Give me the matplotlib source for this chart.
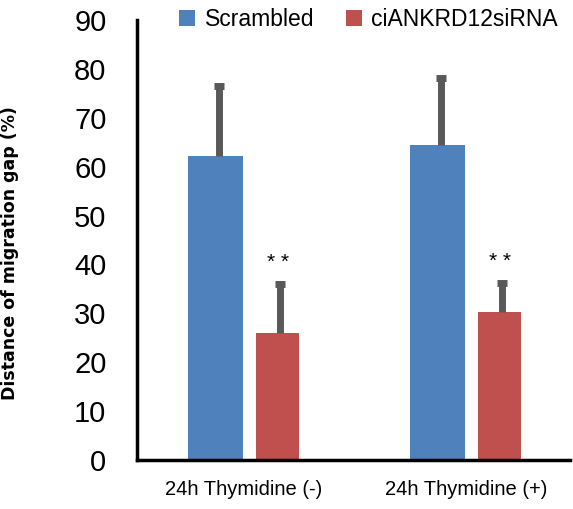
import numpy as np
import matplotlib.pyplot as plt

plt.rcParams['font.family'] = ['Liberation Sans', 'DejaVu Sans']

# дані з графіка
groups = ['24h Thymidine (-)', '24h Thymidine (+)']
scrambled = [62.2, 64.4]
scrambled_err = [14.3, 13.7]
sirna = [26.0, 30.3]
sirna_err = [10.0, 5.9]
series_names = ['Scrambled', 'ciANKRD12siRNA']
stars = ['* *', '* *']

fig = plt.figure(figsize=(5.73, 5.09), dpi=100)
ax = fig.add_axes([0.239, 0.096, 0.756, 0.865])

x = np.arange(len(groups))
ax.bar(x - 0.126, scrambled, width=0.248, color='#4f81bd', label=series_names[0])
ax.bar(x + 0.153, sirna, width=0.194, color='#c0504d', label=series_names[1])

# похибки тільки вгору, з коротким ковпачком
err_col = '#595959'
for xs, vals, errs in [(x - 0.11, scrambled, scrambled_err), (x + 0.165, sirna, sirna_err)]:
    tops = np.array(vals) + np.array(errs)
    ax.vlines(xs, vals, tops, color=err_col, linewidth=5)
    ax.hlines(tops, xs - 0.022, xs + 0.022, color=err_col, linewidth=5)

for xi, v, e, s in zip(x, sirna, sirna_err, stars):
    ax.text(xi + 0.153, v + e + 2.5, s, ha='center', va='bottom', fontsize=15)

ax.set_xlim(-0.48, 1.47)
ax.set_ylim(0, 90)
ax.set_yticks(range(0, 91, 10))
ax.tick_params(axis='y', length=0, labelsize=21, pad=22)
ax.tick_params(axis='x', length=0, labelsize=14.5, pad=14)
ax.set_xticks(x)
ax.set_xticklabels(groups)
ax.set_ylabel('Distance of migration gap (%)', fontsize=12.5, fontweight='bold',
              family=['DejaVu Sans'])
ax.yaxis.set_label_coords(-0.272, 0.47)

for side in ['top', 'right']:
    ax.spines[side].set_visible(False)
ax.spines['left'].set_linewidth(2.5)
ax.spines['bottom'].set_linewidth(2.5)

ax.legend(loc='center', bbox_to_anchor=(0.535, 1.0), ncol=2, frameon=False,
          fontsize=16.5, handlelength=0.7, handleheight=0.7, columnspacing=1.4,
          handletextpad=0.4)

plt.savefig('out.png', dpi=100)
